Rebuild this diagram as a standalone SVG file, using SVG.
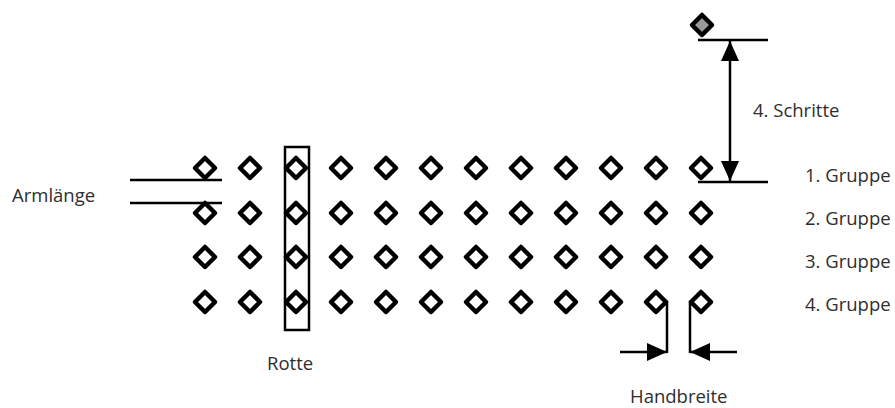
<svg xmlns="http://www.w3.org/2000/svg" xmlns:xlink="http://www.w3.org/1999/xlink" width="895" height="408" viewBox="0 0 895 408">
<style>
.lbl{font-family:"Open Sans","Noto Sans",sans-serif;font-size:18.5px;fill:#2e2e2e}
.ln{stroke:#000;stroke-width:2.5;fill:none}
.dm{stroke:#000;stroke-width:4.5;stroke-linejoin:round;fill:none}
</style>
<defs>
<path id="d" class="dm" d="M0,-10 L10,0 L0,10 L-10,0 Z"/>
<marker id="ah" markerUnits="userSpaceOnUse" markerWidth="20" markerHeight="18" refX="20" refY="9" orient="auto-start-reverse" viewBox="0 0 20 18">
<path d="M0,0 L20,9 L0,18 Z" fill="#000"/>
</marker>
</defs>
<rect width="895" height="408" fill="#fff"/>
<g id="row1">
<use xlink:href="#d" x="205" y="168"/><use xlink:href="#d" x="250" y="168"/><use xlink:href="#d" x="296" y="168"/><use xlink:href="#d" x="341" y="168"/><use xlink:href="#d" x="386" y="168"/><use xlink:href="#d" x="431" y="168"/><use xlink:href="#d" x="476" y="168"/><use xlink:href="#d" x="521" y="168"/><use xlink:href="#d" x="566" y="168"/><use xlink:href="#d" x="611" y="168"/><use xlink:href="#d" x="656" y="168"/><use xlink:href="#d" x="701" y="168"/>
</g>
<g id="row2">
<use xlink:href="#d" x="205" y="213"/><use xlink:href="#d" x="250" y="213"/><use xlink:href="#d" x="296" y="213"/><use xlink:href="#d" x="341" y="213"/><use xlink:href="#d" x="386" y="213"/><use xlink:href="#d" x="431" y="213"/><use xlink:href="#d" x="476" y="213"/><use xlink:href="#d" x="521" y="213"/><use xlink:href="#d" x="566" y="213"/><use xlink:href="#d" x="611" y="213"/><use xlink:href="#d" x="656" y="213"/><use xlink:href="#d" x="701" y="213"/>
</g>
<g id="row3">
<use xlink:href="#d" x="205" y="257"/><use xlink:href="#d" x="250" y="257"/><use xlink:href="#d" x="296" y="257"/><use xlink:href="#d" x="341" y="257"/><use xlink:href="#d" x="386" y="257"/><use xlink:href="#d" x="431" y="257"/><use xlink:href="#d" x="476" y="257"/><use xlink:href="#d" x="521" y="257"/><use xlink:href="#d" x="566" y="257"/><use xlink:href="#d" x="611" y="257"/><use xlink:href="#d" x="656" y="257"/><use xlink:href="#d" x="701" y="257"/>
</g>
<g id="row4">
<use xlink:href="#d" x="205" y="302"/><use xlink:href="#d" x="250" y="302"/><use xlink:href="#d" x="296" y="302"/><use xlink:href="#d" x="341" y="302"/><use xlink:href="#d" x="386" y="302"/><use xlink:href="#d" x="431" y="302"/><use xlink:href="#d" x="476" y="302"/><use xlink:href="#d" x="521" y="302"/><use xlink:href="#d" x="566" y="302"/><use xlink:href="#d" x="611" y="302"/><use xlink:href="#d" x="656" y="302"/><use xlink:href="#d" x="701" y="302"/>
</g>
<g id="leader">
<path d="M702,15 L712,25 L702,35 L692,25 Z" fill="#999" stroke="#000" stroke-width="4.5" stroke-linejoin="round"/>
</g>
<g id="rotte">
<rect class="ln" x="285" y="147" width="24" height="183"/>
<text class="lbl" x="267" y="370">Rotte</text>
</g>
<g id="connectors">
<line class="ln" x1="130" y1="180" x2="222" y2="180"/>
<line class="ln" x1="130" y1="203" x2="222" y2="203"/>
<line class="ln" x1="698" y1="40" x2="768" y2="40"/>
<line class="ln" x1="698" y1="182" x2="768" y2="182"/>
<line class="ln" x1="730" y1="41" x2="730" y2="181" marker-start="url(#ah)" marker-end="url(#ah)"/>
<polyline class="ln" points="664,302 667,302 667,353"/>
<polyline class="ln" points="693,302 690,302 690,353"/>
<line class="ln" x1="620" y1="352" x2="667" y2="352" marker-end="url(#ah)"/>
<line class="ln" x1="737" y1="352" x2="690" y2="352" marker-end="url(#ah)"/>
</g>
<g id="labels">
<text class="lbl" x="12" y="202">Armlänge</text>
<text class="lbl" x="753" y="117">4. Schritte</text>
<text class="lbl" x="630" y="403">Handbreite</text>
<text class="lbl" x="805" y="182">1. Gruppe</text>
<text class="lbl" x="805" y="225">2. Gruppe</text>
<text class="lbl" x="805" y="268">3. Gruppe</text>
<text class="lbl" x="805" y="311">4. Gruppe</text>
</g>
</svg>
